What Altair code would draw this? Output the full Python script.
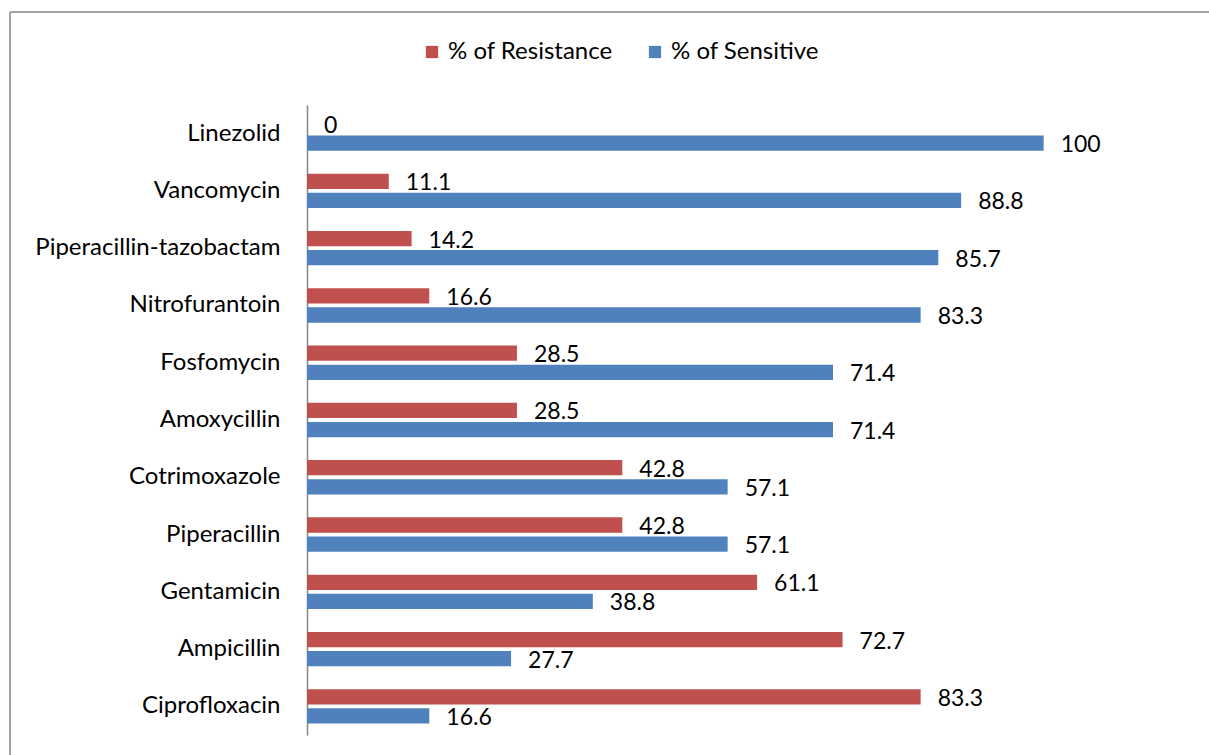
import altair as alt
import pandas as pd

drugs = ["Linezolid", "Vancomycin", "Piperacillin-tazobactam", "Nitrofurantoin",
         "Fosfomycin", "Amoxycillin", "Cotrimoxazole", "Piperacillin",
         "Gentamicin", "Ampicillin", "Ciprofloxacin"]
resistance = [0, 11.1, 14.2, 16.6, 28.5, 28.5, 42.8, 42.8, 61.1, 72.7, 83.3]
sensitive = [100, 88.8, 85.7, 83.3, 71.4, 71.4, 57.1, 57.1, 38.8, 27.7, 16.6]
series = ["% of Resistance", "% of Sensitive"]
colors = ["#C0504D", "#4F81BD"]

rows = []
for d, r, s in zip(drugs, resistance, sensitive):
    rows.append({"drug": d, "series": series[0], "value": r, "label": f"{r:g}"})
    rows.append({"drug": d, "series": series[1], "value": s, "label": f"{s:g}"})
df = pd.DataFrame(rows)

FONT = "Lato"

y_enc = alt.Y("drug:N", sort=drugs, title=None,
              scale=alt.Scale(paddingInner=0.4, paddingOuter=0.2),
              axis=alt.Axis(ticks=False, domainColor="#868686", domainWidth=1.5,
                            labelFontSize=24, labelFont=FONT, labelColor="#000000",
                            labelPadding=27, labelLimit=400))
yoff_enc = alt.YOffset("series:N", sort=series,
                       scale=alt.Scale(paddingInner=0.2, paddingOuter=0))
x_enc = alt.X("value:Q", scale=alt.Scale(domain=[0, 120]), axis=None)

base = alt.Chart(df)

bars = base.mark_bar().encode(
    y=y_enc, yOffset=yoff_enc, x=x_enc,
    color=alt.Color("series:N", sort=series,
                    scale=alt.Scale(domain=series, range=colors),
                    legend=alt.Legend(title=None, orient="none", direction="horizontal",
                                      legendX=113, legendY=-65,
                                      symbolType="square", symbolSize=150,
                                      symbolStrokeWidth=0,
                                      labelFontSize=24, labelFont=FONT,
                                      labelColor="#000000", columnPadding=30,
                                      labelLimit=300)),
)

labels = base.mark_text(align="left", baseline="middle", dx=17, dy=2, fontSize=23,
                        font=FONT, color="#000000").encode(
    y=alt.Y("drug:N", sort=drugs), yOffset=yoff_enc, x=x_enc, text="label:N",
)

frame = pd.DataFrame({"a": [0]})
left_border = alt.Chart(frame).mark_rule(color="#868686", strokeWidth=1.5).encode(
    x=alt.value(-297), y=alt.value(-93), y2=alt.value(700))
top_border = alt.Chart(frame).mark_rule(color="#868686", strokeWidth=1.5).encode(
    x=alt.value(-297), x2=alt.value(950), y=alt.value(-93))

chart = alt.layer(left_border, top_border, bars, labels).properties(
    width=884, height=630,
    padding={"left": 307, "top": 105, "right": 18, "bottom": 20},
    autosize=alt.AutoSizeParams(type="none"),
    background="white",
).configure_view(stroke=None)

chart.save("out.html", embed_options={"renderer": "svg", "actions": False})
